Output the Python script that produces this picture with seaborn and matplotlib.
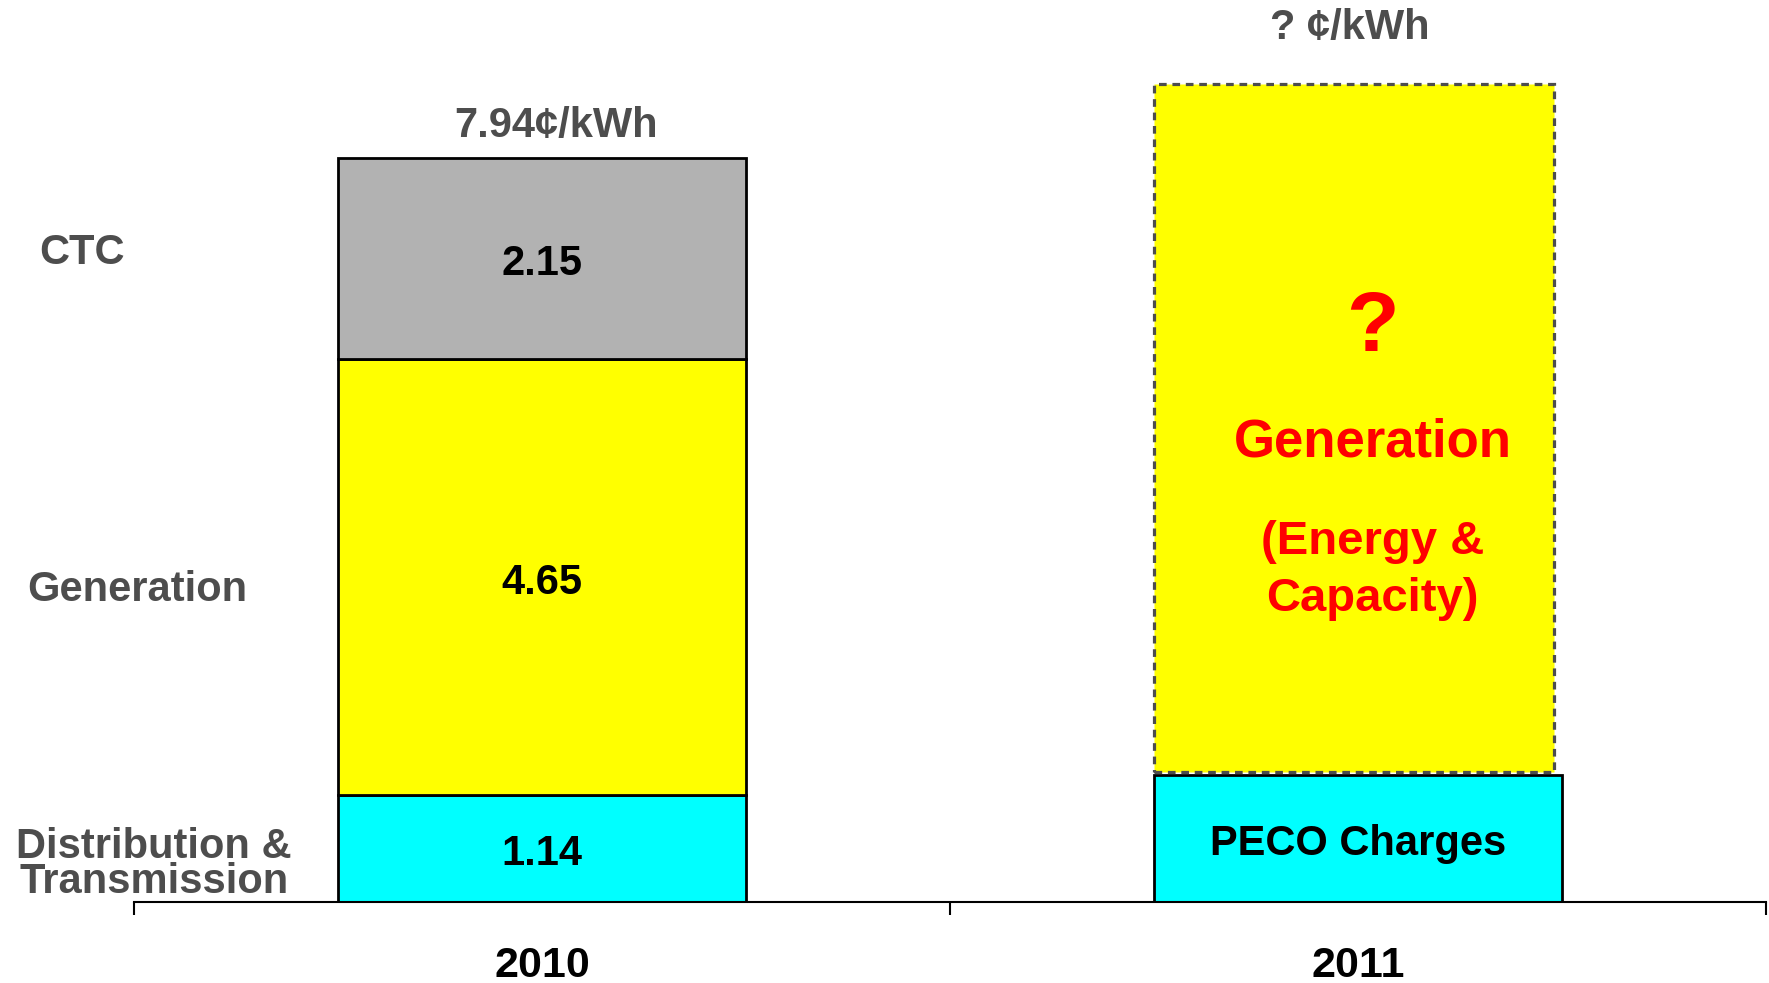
import matplotlib
matplotlib.use("Agg")
import matplotlib.pyplot as plt
import matplotlib.transforms as mtransforms
from matplotlib.ticker import FixedLocator
import seaborn as sns
import pandas as pd

# ---- data ----
years = ["2010", "2011"]
delivery = [1.14, 1.36]        # Distribution & Transmission (2010) / PECO Charges (2011)
generation = [4.65, 7.34]      # 2011 generation is unknown ("?") box
ctc = [2.15, 0.0]
row_labels = ["Distribution &\nTransmission", "Generation", "CTC"]
total_2011_label = "? ¢/kWh"
peco_label = "PECO Charges"
gen_2011_labels = ["?", "Generation", "(Energy &", "Capacity)"]

CYAN = "#00FFFF"
YELLOW = "#FFFF00"
GRAY = "#B2B2B2"
DARK = "#4D4D4D"
RED = "#FF0000"

sns.set_theme(style="white")
plt.rcParams["font.family"] = ["Liberation Sans", "DejaVu Sans"]
plt.rcParams["font.weight"] = "bold"

df = pd.DataFrame({"year": years, "delivery": delivery,
                   "generation": generation, "ctc": ctc})

fig = plt.figure(figsize=(17.69, 9.83), dpi=100)
ax = fig.add_axes([134 / 1769, 81 / 983, 1632 / 1769, 902 / 983])

# bottom layer (both years)
sns.barplot(data=df, x="year", y="delivery", order=years, color=CYAN,
            saturation=1, width=0.5, edgecolor="black", linewidth=2,
            ax=ax, zorder=3)
# generation 2010 (solid)
sns.barplot(data=df.iloc[[0]], x="year", y="generation", order=years,
            bottom=delivery[0], color=YELLOW, saturation=1, width=0.5,
            edgecolor="black", linewidth=2, ax=ax, zorder=3)
# CTC 2010
sns.barplot(data=df.iloc[[0]], x="year", y="ctc", order=years,
            bottom=delivery[0] + generation[0], color=GRAY, saturation=1,
            width=0.5, edgecolor="black", linewidth=2, ax=ax, zorder=3)
# generation 2011 (unknown, dashed)
n_before = len(ax.patches)
sns.barplot(data=df.iloc[[1]], x="year", y="generation", order=years,
            bottom=delivery[1] + 0.03, color=YELLOW, saturation=1, width=0.49,
            edgecolor=DARK, linewidth=2.3, linestyle=(0, (2.4, 1.8)),
            ax=ax, zorder=4)
for p in ax.patches[n_before:]:
    p.set_x(p.get_x() - 0.005)

# ---- axes styling ----
ax.set_xlim(-0.5, 1.5)
ax.set_ylim(0, 902 / 93.74)
ax.set_xlabel("")
ax.set_ylabel("")
ax.set_yticks([])
for s in ["left", "top", "right"]:
    ax.spines[s].set_visible(False)
ax.spines["bottom"].set_color("black")
ax.spines["bottom"].set_linewidth(1.5)
ax.spines["bottom"].set_zorder(5)
ax.set_xticks([0, 1])
ax.set_xticklabels(years, fontsize=31, fontweight="bold", color="black")
ax.xaxis.set_minor_locator(FixedLocator([-0.5, 0.5, 1.5]))
ax.tick_params(axis="x", which="major", length=0, pad=32, bottom=True)
ax.tick_params(axis="x", which="minor", length=9, width=1.5, color="black",
               direction="out", bottom=True)

DY = -0.06  # small vertical nudge for text centring

# ---- segment value labels (2010) ----
segs = [delivery[0], generation[0], ctc[0]]
base = 0.0
for v in segs:
    ax.text(0, base + v / 2 + DY, f"{v:.2f}", ha="center", va="center",
            fontsize=30, fontweight="bold", color="black", zorder=6)
    base += v

# total label 2010
total_2010 = sum(segs)
ax.annotate(f"{total_2010:.2f}¢/kWh", xy=(0.017, total_2010),
            xytext=(0, 23), textcoords="offset points", ha="center",
            va="center", fontsize=30, fontweight="bold", color=DARK)

# total label 2011
total_2011 = delivery[1] + 0.03 + generation[1]
ax.annotate(total_2011_label, xy=(0.99, total_2011), xytext=(0, 40),
            textcoords="offset points", ha="center", va="center",
            fontsize=30, fontweight="bold", color=DARK, annotation_clip=False)

# PECO charges label
ax.text(1, 0.62, peco_label, ha="center", va="center",
        fontsize=30, fontweight="bold", color="black", zorder=6)

# red labels in 2011 generation box
ax.text(1.018, 6.17 + DY, gen_2011_labels[0], ha="center", va="center",
        fontsize=62, fontweight="bold", color=RED, zorder=6)
ax.text(1.018, 4.96 + DY, gen_2011_labels[1], ha="center", va="center",
        fontsize=38, fontweight="bold", color=RED, zorder=6)
ax.text(1.018, 3.90 + DY, gen_2011_labels[2], ha="center", va="center",
        fontsize=34, fontweight="bold", color=RED, zorder=6)
ax.text(1.018, 3.29 + DY, gen_2011_labels[3], ha="center", va="center",
        fontsize=34, fontweight="bold", color=RED, zorder=6)

# row labels on the left
trans = mtransforms.blended_transform_factory(fig.transFigure, ax.transData)
ax.text(39.5 / 1769, 6.98 + DY, row_labels[2], transform=trans, ha="left",
        va="center", fontsize=30, fontweight="bold", color=DARK)
ax.text(27 / 1769, 3.39 + DY, row_labels[1], transform=trans, ha="left",
        va="center", fontsize=30, fontweight="bold", color=DARK)
ax.text(154 / 1769, 0.46 + DY, row_labels[0], transform=trans, ha="center",
        va="center", fontsize=30, fontweight="bold", color=DARK,
        linespacing=0.85, multialignment="center")

fig.savefig("out.png", dpi=100)
